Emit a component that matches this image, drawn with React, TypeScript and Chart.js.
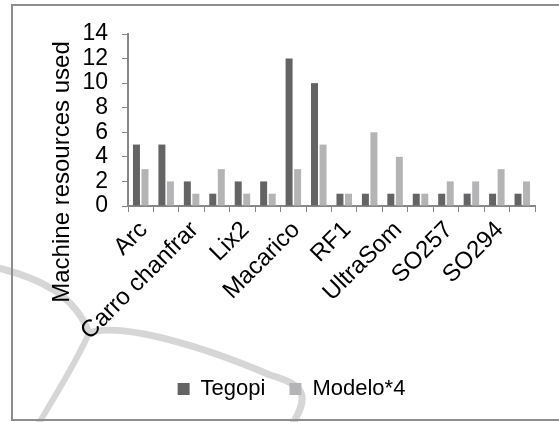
import React, { useEffect, useRef } from "react";
import { Chart, registerables } from "chart.js";

Chart.register(...registerables);

const categories = [
  "Arc", "", "Carro chanfrar", "", "Lix2", "", "Macarico", "",
  "RF1", "", "UltraSom", "", "SO257", "", "SO294", "",
];
const tegopi = [5, 5, 2, 1, 2, 2, 12, 10, 1, 1, 1, 1, 1, 1, 1, 1];
const modelo4 = [3, 2, 1, 3, 1, 1, 3, 5, 1, 6, 4, 1, 2, 2, 3, 2];
const seriesNames = ["Tegopi", "Modelo*4"];
const yAxisTitle = "Machine resources used";
const yMin = 0;
const yMax = 14;
const yStep = 2;

const FONT = "'Liberation Sans', Arial, sans-serif";

const backgroundPlugin = {
  id: "bgDecor",
  beforeDraw(chart: any) {
    const ctx = chart.ctx;
    ctx.save();
    ctx.fillStyle = "#ffffff";
    ctx.fillRect(0, 0, chart.width, chart.height);
    // decorative swooshes
    ctx.strokeStyle = "#d6d6d6";
    ctx.lineCap = "round";
    ctx.lineWidth = 7;
    ctx.beginPath();
    ctx.moveTo(-5, 267);
    ctx.bezierCurveTo(40, 278, 75, 295, 89, 333);
    ctx.bezierCurveTo(120, 322, 200, 345, 270, 375);
    ctx.bezierCurveTo(305, 385, 310, 395, 292, 425);
    ctx.stroke();
    ctx.lineWidth = 6;
    ctx.beginPath();
    ctx.moveTo(89, 333);
    ctx.bezierCurveTo(75, 365, 55, 395, 38, 425);
    ctx.stroke();
    // frame
    ctx.strokeStyle = "#8e8e8e";
    ctx.lineWidth = 2;
    ctx.strokeRect(12, 5, 600, 415);
    ctx.restore();
  },
  afterDraw(chart: any) {
    const ctx = chart.ctx;
    ctx.save();
    ctx.fillStyle = "#000";
    ctx.font = `24px ${FONT}`;
    ctx.textAlign = "center";
    ctx.textBaseline = "alphabetic";
    ctx.translate(69, 172);
    ctx.rotate(-Math.PI / 2);
    ctx.fillText(yAxisTitle, 0, 0);
    ctx.restore();
  },
};

const legendShift = {
  id: "legendShift",
  afterLayout(chart: any) {
    const lg = chart.legend;
    if (lg) {
      lg.left += 18;
      lg.right += 18;
    }
  },
};

export default function App() {
  const ref = useRef<HTMLCanvasElement>(null);
  useEffect(() => {
    if (!ref.current) return;
    const axisColor = "#878787";
    const chart = new Chart(ref.current, {
      type: "bar",
      data: {
        labels: categories,
        datasets: [
          {
            label: seriesNames[0],
            data: tegopi,
            backgroundColor: "#646464",
            categoryPercentage: 0.67,
            barPercentage: 0.82,
          },
          {
            label: seriesNames[1],
            data: modelo4,
            backgroundColor: "#b4b4b6",
            categoryPercentage: 0.67,
            barPercentage: 0.82,
          },
        ],
      },
      options: {
        animation: false,
        responsive: false,
        devicePixelRatio: 1,
        layout: { padding: { left: 12, top: 34, right: 24, bottom: 12 } },
        plugins: {
          tooltip: { enabled: false },
          legend: {
            position: "bottom",
            labels: {
              boxWidth: 12,
              boxHeight: 12,
              padding: 24,
              color: "#000",
              font: { family: FONT, size: 22 },
            },
          },
        },
        scales: {
          x: {
            grid: {
              display: true,
              drawOnChartArea: false,
              drawTicks: true,
              tickLength: 6,
              color: axisColor,
              offset: true,
            },
            border: { color: axisColor, width: 2 },
            ticks: {
              autoSkip: false,
              maxRotation: 45,
              minRotation: 45,
              color: "#000",
              padding: 4,
              labelOffset: 3,
              font: { family: FONT, size: 24 },
            },
            afterFit: (s: any) => {
              s.height = 148;
            },
          },
          y: {
            min: yMin,
            max: yMax,
            grid: {
              drawOnChartArea: false,
              drawTicks: true,
              tickLength: 6,
              color: axisColor,
            },
            border: { color: axisColor, width: 2 },
            ticks: {
              stepSize: yStep,
              autoSkip: false,
              color: "#000",
              padding: 14,
              font: { family: FONT, size: 23, lineHeight: 1 },
            },
            afterFit: (s: any) => {
              s.width = 116;
            },
          },
        },
      },
      plugins: [backgroundPlugin, legendShift],
    });
    return () => chart.destroy();
  }, []);
  return (
    <div style={{ position: "fixed", left: 0, top: 0, width: 559, height: 422, background: "#fff" }}>
      <canvas ref={ref} width={559} height={422} style={{ display: "block", width: 559, height: 422 }} />
    </div>
  );
}
